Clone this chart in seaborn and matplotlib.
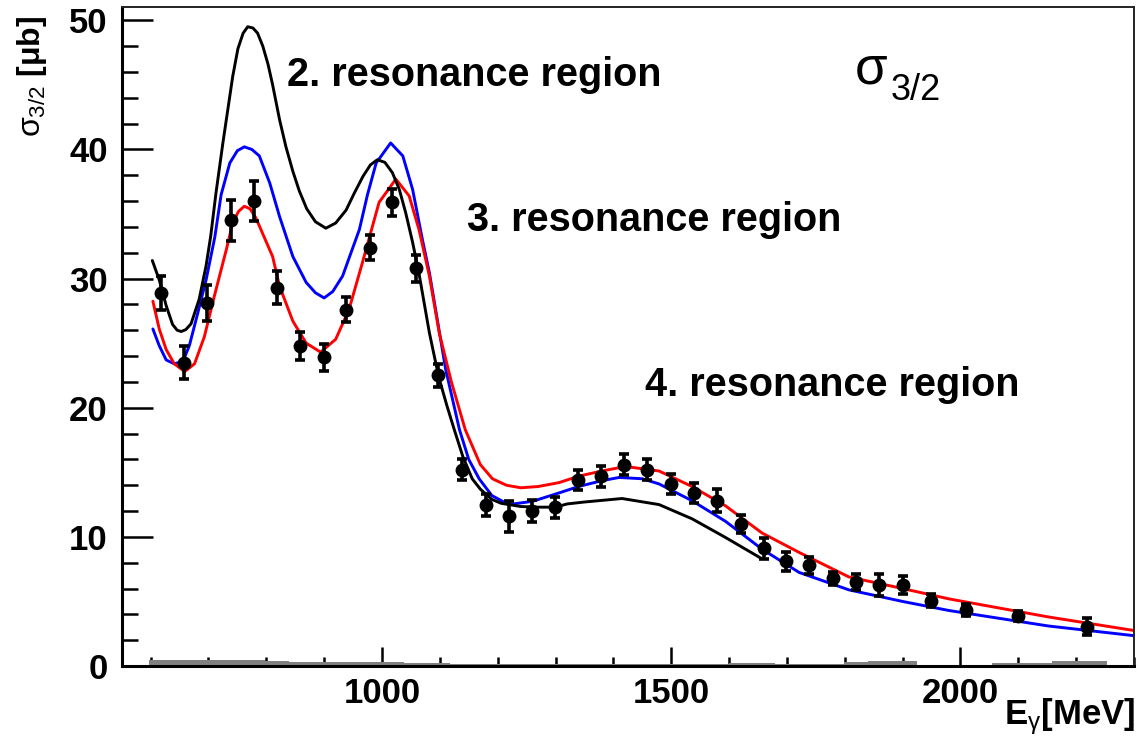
import numpy as np
import pandas as pd
import matplotlib
matplotlib.use("Agg")
import matplotlib.pyplot as plt
import seaborn as sns
from matplotlib.ticker import MultipleLocator

# ---------------- data ----------------
E_data = [618, 658, 698, 739, 778, 819, 858, 899, 938, 980, 1018, 1058, 1097,
          1139, 1179, 1219, 1259, 1299, 1339, 1379, 1419, 1459, 1499, 1539,
          1579, 1620, 1660, 1699, 1739, 1780, 1819, 1860, 1900, 1949, 2009,
          2099, 2219]
sigma_data = [28.9, 23.5, 28.1, 34.5, 36.0, 29.3, 24.8, 23.9, 27.6, 32.4, 35.9,
              30.8, 22.5, 15.2, 12.5, 11.6, 12.0, 12.3, 14.4, 14.7, 15.6, 15.2,
              14.1, 13.4, 12.8, 11.0, 9.1, 8.1, 7.8, 6.8, 6.5, 6.3, 6.3, 5.05,
              4.35, 3.85, 3.05]
err_data = [1.3, 1.3, 1.4, 1.6, 1.55, 1.3, 1.1, 1.05, 0.95, 0.95, 1.05, 1.05,
            0.9, 0.8, 0.85, 1.2, 0.85, 0.8, 0.8, 0.8, 0.8, 0.8, 0.8, 0.8, 0.9,
            0.7, 0.8, 0.75, 0.65, 0.5, 0.65, 0.85, 0.7, 0.5, 0.45, 0.4, 0.65]
sys_data = [0.45, 0.45, 0.45, 0.45, 0.45, 0.4, 0.3, 0.3, 0.3, 0.28, 0.28, 0.25,
            0.22, 0.15, 0.15, 0.15, 0.15, 0.15, 0.15, 0.18, 0.18, 0.18, 0.15,
            0.15, 0.15, 0.2, 0.2, 0.15, 0.15, 0.15, 0.35, 0.38, 0.38, 0.1,
            0.08, 0.25, 0.4]

# model curves (read point by point)
E_black = [603, 615, 627, 638, 646, 653, 661, 670, 684, 696, 704, 713, 725, 742,
           751, 760, 768, 777, 785, 794, 803, 811, 823, 834, 846, 857, 870, 885,
           903, 920, 938, 952, 967, 980, 992, 1005, 1018, 1030, 1041, 1053,
           1064, 1082, 1098, 1112, 1125, 1140, 1156, 1170, 1190, 1206, 1240,
           1270, 1300, 1320, 1350, 1415, 1479, 1536, 1594, 1657]
s_black = [31.4, 29.9, 27.9, 26.45, 26.0, 25.9, 26.05, 26.5, 28.4, 31.0, 33.3,
           36.6, 40.5, 45.65, 47.8, 49.0, 49.5, 49.4, 49.0, 48.0, 46.6, 45.0,
           42.3, 40.2, 38.3, 36.8, 35.4, 34.4, 33.9, 34.3, 35.3, 36.6, 37.9,
           38.8, 39.2, 39.0, 38.2, 36.9, 35.1, 32.8, 30.4, 25.8, 22.4, 20.2,
           18.3, 16.2, 14.5, 13.7, 12.9, 12.6, 12.35, 12.3, 12.3, 12.55, 12.7,
           12.97, 12.5, 11.4, 9.95, 8.3]

E_blue = [604, 615, 627, 641, 656, 667, 682, 696, 711, 722, 737, 750, 762, 775,
          788, 806, 823, 846, 869, 885, 900, 915, 932, 961, 975, 990, 1015,
          1036, 1053, 1070, 1082, 1095, 1110, 1134, 1150, 1168, 1190, 1219,
          1260, 1306, 1340, 1380, 1410, 1450, 1479, 1536, 1594, 1657, 1721,
          1807, 1900, 1980, 2152, 2300]
s_blue = [26.1, 24.8, 23.7, 23.4, 23.6, 24.8, 27.4, 29.9, 33.2, 36.5, 38.95,
          39.9, 40.2, 40.0, 39.5, 37.4, 34.8, 31.7, 29.7, 28.9, 28.5, 29.0,
          30.2, 33.8, 36.5, 38.95, 40.5, 39.5, 36.9, 33.0, 30.45, 27.0, 23.0,
          18.3, 16.0, 14.5, 13.2, 12.5, 12.75, 13.4, 13.9, 14.35, 14.6, 14.5,
          14.1, 12.8, 11.2, 9.05, 7.25, 5.9, 5.0, 4.3, 3.1, 2.35]

E_red = [604, 615, 627, 641, 659, 676, 693, 710, 731, 742, 752, 762, 772, 782,
         811, 823, 846, 869, 894, 920, 943, 966, 995, 1024, 1047, 1064, 1082,
         1099, 1120, 1144, 1170, 1191, 1215, 1240, 1270, 1306, 1340, 1380,
         1421, 1479, 1536, 1594, 1657, 1721, 1807, 1900, 1980, 2152, 2300]
s_red = [28.25, 26.1, 24.5, 23.4, 22.8, 23.4, 25.5, 28.6, 32.25, 34.3, 35.2,
         35.6, 35.4, 34.7, 31.7, 29.4, 26.7, 25.0, 24.3, 25.3, 27.6, 31.2, 35.9,
         37.7, 36.4, 33.8, 30.2, 25.8, 22.0, 18.3, 15.6, 14.5, 14.0, 13.8, 13.9,
         14.2, 14.7, 15.1, 15.45, 15.1, 13.9, 12.4, 10.3, 8.8, 6.9, 6.0, 5.2,
         3.8, 2.75]

y_ticks = [0, 10, 20, 30, 40, 50]
x_ticks = [1000, 1500, 2000]

# ---------------- figure ----------------
sns.set_theme(style="white")
plt.rcParams["font.family"] = ["Liberation Sans", "DejaVu Sans"]
plt.rcParams["text.color"] = "black"
plt.rcParams["axes.labelcolor"] = "black"
plt.rcParams["xtick.color"] = "black"
plt.rcParams["ytick.color"] = "black"
plt.rcParams["mathtext.fontset"] = "custom"
plt.rcParams["mathtext.rm"] = "Liberation Sans"
plt.rcParams["mathtext.it"] = "Liberation Sans"
plt.rcParams["mathtext.bf"] = "Liberation Sans:bold"

fig = plt.figure(figsize=(11.39, 7.37), dpi=100)
ax = fig.add_axes([0.1068, 0.0963, 0.8888, 0.8946])

# systematic error band (gray histogram)
E_arr = np.array(E_data, dtype=float)
mids = (E_arr[1:] + E_arr[:-1]) / 2
edges = [float(v) for v in np.concatenate([[E_arr[0] - 20], mids, [E_arr[-1] + 35]])]
df_sys = pd.DataFrame({"E": E_data, "w": sys_data})
sns.histplot(data=df_sys, x="E", weights="w", bins=edges, element="step",
             fill=True, color="#808080", alpha=1.0, linewidth=0, ax=ax)

df_b = pd.DataFrame({"E": E_black, "s": s_black})
df_bl = pd.DataFrame({"E": E_blue, "s": s_blue})
df_r = pd.DataFrame({"E": E_red, "s": s_red})
sns.lineplot(data=df_bl, x="E", y="s", color="#0000ff", linewidth=2.1, ax=ax,
             sort=False)
sns.lineplot(data=df_r, x="E", y="s", color="#ff0000", linewidth=2.1, ax=ax,
             sort=False)
sns.lineplot(data=df_b, x="E", y="s", color="black", linewidth=2.1, ax=ax,
             sort=False)

ax.errorbar(E_data, sigma_data, yerr=err_data, fmt="none", ecolor="black",
            elinewidth=2.6, capsize=3.5, capthick=2.6, zorder=5)
sns.scatterplot(x=E_data, y=sigma_data, color="black", s=100, edgecolor="black",
                linewidth=0, ax=ax, zorder=6)

ax.set_xlim(550, 2300)
ax.set_ylim(0, 51.05)
ax.set_xticks(x_ticks)
ax.set_xticklabels([str(t) for t in x_ticks])
ax.set_yticks(y_ticks)
ax.set_yticklabels([str(t) for t in y_ticks])
ax.xaxis.set_minor_locator(MultipleLocator(100))
ax.yaxis.set_minor_locator(MultipleLocator(2))
ax.tick_params(axis="y", which="major", direction="in", length=22, width=1.8,
               labelsize=25, pad=10, left=True, right=False, color="black")
ax.tick_params(axis="y", which="minor", direction="in", length=11.5, width=1.8,
               left=True, right=False, color="black")
ax.tick_params(axis="x", which="major", direction="in", length=13.5, width=1.8,
               labelsize=25, pad=8, bottom=True, top=False, color="black")
ax.tick_params(axis="x", which="minor", direction="in", length=6.5, width=1.8,
               bottom=True, top=False, color="black")
for lab in ax.get_xticklabels() + ax.get_yticklabels():
    lab.set_fontweight("bold")
    lab.set_color("black")
ax.set_xlabel("")
ax.set_ylabel("")
for side in ["left", "bottom"]:
    ax.spines[side].set_linewidth(2.2)
    ax.spines[side].set_color("black")
for side in ["top", "right"]:
    ax.spines[side].set_linewidth(1.4)
    ax.spines[side].set_color("#222222")

# annotations
ax.text(0.1633, 0.896, "2. resonance region", transform=ax.transAxes,
        fontsize=28.5, fontweight="bold", ha="left", va="center", color="black")
ax.text(0.341, 0.676, "3. resonance region", transform=ax.transAxes,
        fontsize=28.5, fontweight="bold", ha="left", va="center", color="black")
ax.text(0.517, 0.426, "4. resonance region", transform=ax.transAxes,
        fontsize=28.5, fontweight="bold", ha="left", va="center", color="black")
ax.text(0.7245, 0.905, "σ", transform=ax.transAxes, fontsize=38,
        ha="left", va="center", color="black")
ax.text(0.760, 0.873, "3/2", transform=ax.transAxes, fontsize=26,
        ha="left", va="center", color="black")

fig.text(0.028, 0.896, r"$\sigma_{3/2}$ [μb]", rotation=90, fontsize=23,
         fontweight="bold", ha="center", va="center", color="black")
fig.text(0.9965, 0.028, r"E$_{\gamma}$[MeV]", fontsize=25, fontweight="bold",
         ha="right", va="center", color="black")

fig.savefig("out.png", dpi=100)
